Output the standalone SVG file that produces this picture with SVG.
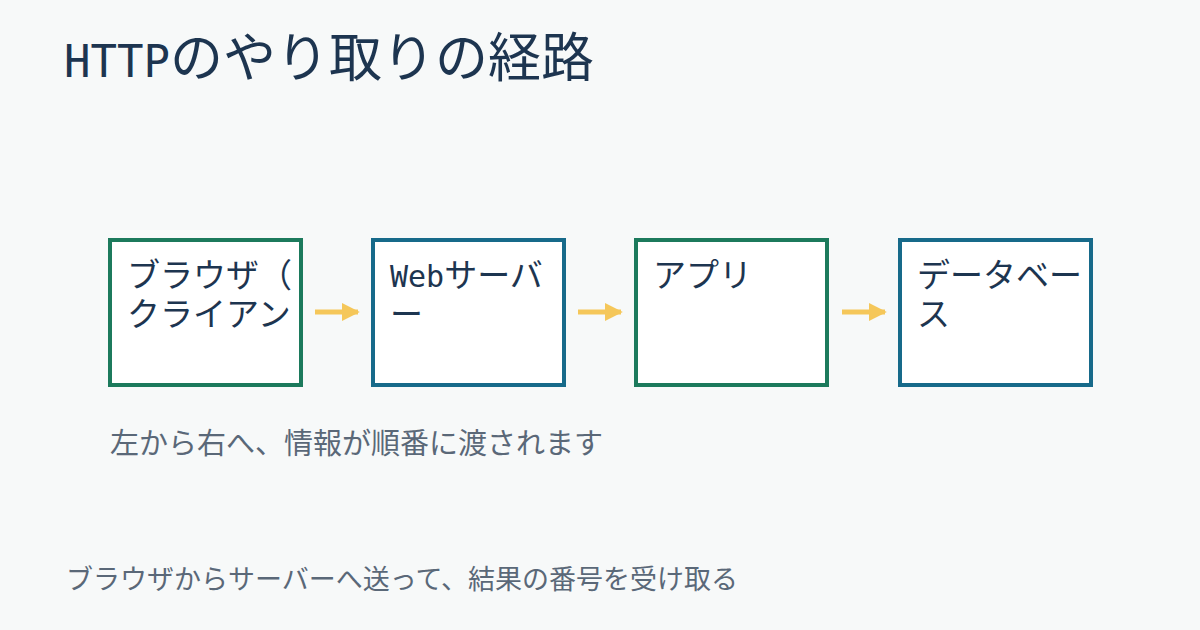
<svg xmlns="http://www.w3.org/2000/svg" width="1200" height="630" viewBox="0 0 1200 630">
<defs>
<style>
.t{font-family:"DejaVu Sans Mono","Noto Sans CJK JP",monospace;fill:#1d3550}
.box{fill:#fff;stroke-width:4}
.g{stroke:#1c7a5c}.b{stroke:#176a8a}
.s{font-family:"DejaVu Sans","Noto Sans CJK JP",sans-serif;fill:#5a6878}
.ar{stroke:#f5c75a;stroke-width:5;fill:none}
.bt{font-size:33px}
</style>
<marker id="h" viewBox="0 0 10 10" refX="9" refY="5" markerWidth="3.6" markerHeight="5" orient="auto" markerUnits="strokeWidth"><path d="M0,0L10,5L0,10z" fill="#f5c75a"/></marker>
</defs>
<rect width="1200" height="630" fill="#f7f9f9"/>
<text class="t" x="64" y="77" font-size="44">HTTP<tspan font-size="53">のやり取りの経路</tspan></text>
<g id="connectors">
<line class="ar" x1="315" y1="312" x2="358" y2="312" marker-end="url(#h)"/>
<line class="ar" x1="578" y1="312" x2="621" y2="312" marker-end="url(#h)"/>
<line class="ar" x1="842" y1="312" x2="885" y2="312" marker-end="url(#h)"/>
</g>
<g id="n1"><rect class="box g" x="110" y="240" width="191" height="145"/><text class="t bt" x="127" y="287">ブラウザ（</text><text class="t bt" x="127" y="326">クライアン</text></g>
<g id="n2"><rect class="box b" x="373" y="240" width="191" height="145"/><text class="t" x="390" y="287"><tspan font-size="30">Web</tspan><tspan font-size="33">サーバ</tspan></text><text class="t bt" x="390" y="326">ー</text></g>
<g id="n3"><rect class="box g" x="636" y="240" width="191" height="145"/><text class="t bt" x="653" y="287">アプリ</text></g>
<g id="n4"><rect class="box b" x="900" y="240" width="191" height="145"/><text class="t bt" x="917" y="287">データベー</text><text class="t bt" x="917" y="326">ス</text></g>
<text class="s" x="110" y="454" font-size="29">左から右へ、情報が順番に渡されます</text>
<text class="s" x="66" y="589" font-size="27">ブラウザからサーバーへ送って、結果の番号を受け取る</text>
</svg>
